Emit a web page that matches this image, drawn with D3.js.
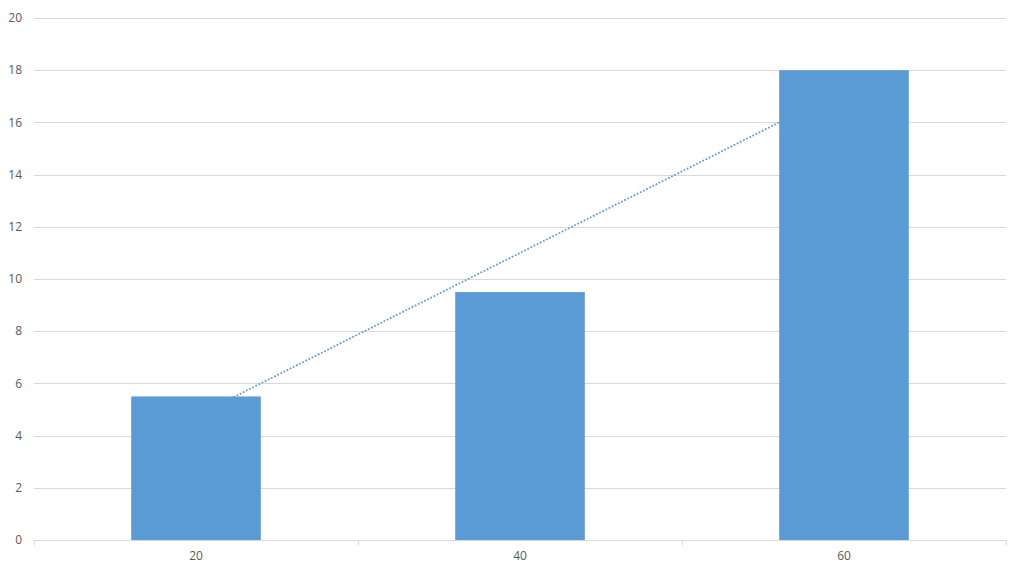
<!DOCTYPE html>
<html>
<head>
<meta charset="utf-8">
<script src="https://cdn.jsdelivr.net/npm/d3@7"></script>
<style>
  body { margin: 0; background: #fff; }
  text { font-family: "Open Sans", "Liberation Sans", sans-serif; fill: #595959; }
</style>
</head>
<body>
<div id="chart-area"></div>
<script>
// Data
var categories = ["20", "40", "60"];
var values = [5.5, 9.5, 18];
// linear trendline values at each category
var trendValues = [4.75, 11, 17.25];
var yTicks = [0, 2, 4, 6, 8, 10, 12, 14, 16, 18, 20];

var width = 1024, height = 573;
var plotLeft = 34, plotRight = 1006, plotTop = 18, plotBottom = 540;

var svg = d3.select("#chart-area")
    .append("svg")
        .attr("width", width)
        .attr("height", height);

// X Scale
var x = d3.scaleBand()
    .domain(categories)
    .range([plotLeft, plotRight])
    .paddingInner(0.6)
    .paddingOuter(0.3);

// Y Scale
var y = d3.scaleLinear()
    .domain([0, 20])
    .range([plotBottom, plotTop]);

// Gridlines
svg.append("g")
    .selectAll("line")
    .data(yTicks.filter(function(d){ return d > 0; }))
    .enter().append("line")
        .attr("x1", plotLeft)
        .attr("x2", plotRight)
        .attr("y1", function(d){ return Math.round(y(d)) + 0.5; })
        .attr("y2", function(d){ return Math.round(y(d)) + 0.5; })
        .attr("stroke", "#d9d9d9")
        .attr("stroke-width", 1);

// Y labels
svg.append("g")
    .selectAll("text")
    .data(yTicks)
    .enter().append("text")
        .attr("x", 22)
        .attr("y", function(d){ return y(d); })
        .attr("dy", "0.35em")
        .attr("text-anchor", "end")
        .attr("font-size", "12px")
        .text(function(d){ return d; });

// Trendline (drawn behind the bars)
var line = d3.line()
    .x(function(d, i){ return x(categories[i]) + x.bandwidth() / 2; })
    .y(function(d){ return y(d); });

svg.append("path")
    .datum(trendValues)
    .attr("d", line)
    .attr("fill", "none")
    .attr("stroke", "#5b9bd5")
    .attr("stroke-width", 1.75)
    .attr("stroke-dasharray", "1.75,1.75");

// Bars
svg.append("g")
    .selectAll("rect")
    .data(values)
    .enter().append("rect")
        .attr("x", function(d, i){ return x(categories[i]); })
        .attr("y", function(d){ return y(d); })
        .attr("width", x.bandwidth())
        .attr("height", function(d){ return plotBottom - y(d); })
        .attr("fill", "#5b9bd5");

// X axis
var xAxisCall = d3.axisBottom(x).tickSize(0).tickPadding(11);
var xAxisGroup = svg.append("g")
    .attr("transform", "translate(0," + (plotBottom + 0.5) + ")")
    .call(xAxisCall);
xAxisGroup.select(".domain")
    .attr("stroke", "#d9d9d9")
    .attr("d", "M" + plotLeft + ",0H" + plotRight);
xAxisGroup.selectAll("text")
    .attr("font-size", "12px")
    .attr("font-family", null)
    .attr("fill", "#595959");

// Category boundary ticks
var bounds = d3.range(categories.length + 1).map(function(i){ return plotLeft + i * x.step(); });
xAxisGroup.selectAll(".bound")
    .data(bounds)
    .enter().append("line")
        .attr("class", "bound")
        .attr("x1", function(d){ return Math.round(d) + 0.5; })
        .attr("x2", function(d){ return Math.round(d) + 0.5; })
        .attr("y1", 0)
        .attr("y2", 5)
        .attr("stroke", "#d9d9d9");
</script>
</body>
</html>
